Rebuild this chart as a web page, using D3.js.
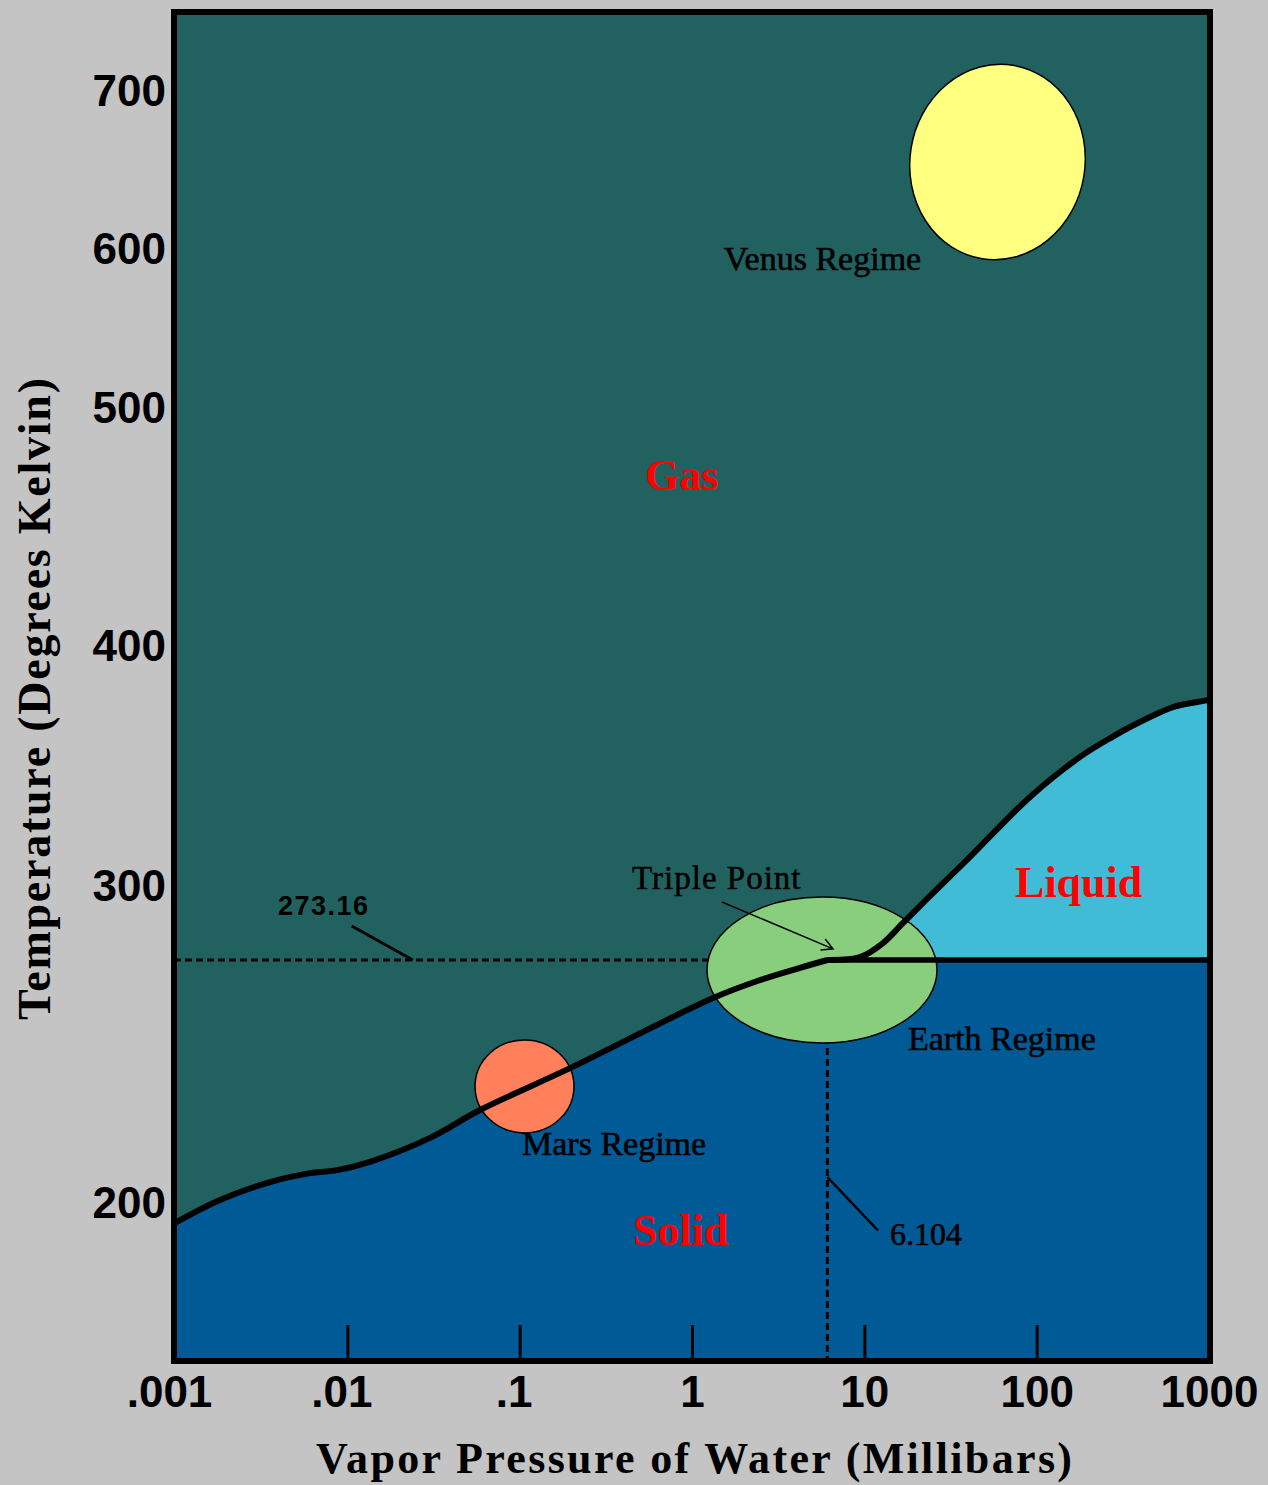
<!DOCTYPE html>
<html>
<head>
<meta charset="utf-8">
<script src="https://cdn.jsdelivr.net/npm/d3@7"></script>
<style>
  body { margin: 0; background: #c4c4c4; }
  svg { display: block; }
</style>
</head>
<body>
<svg id="chart" width="1268" height="1485"></svg>
<script>
// axis ticks
const pressureTicks = [0.001, 0.01, 0.1, 1, 10, 100, 1000];
const pressureTickLabels = ['.001', '.01', '.1', '1', '10', '100', '1000'];
const tempTicks = [200, 300, 400, 500, 600, 700];

// ice / vapour boundary (mbar, K)
const sublimationP = [0.001, 0.001824, 0.003557, 0.006073, 0.008711, 0.01354, 0.03018, 0.05887, 0.196, 1.324, 2.481, 4.234, 6.104];
const sublimationT = [193.7, 200.9, 206.3, 209.0, 209.9, 212.4, 219.6, 228.0, 240.6, 261.7, 267.1, 270.8, 273.16];

// liquid / vapour boundary
const vaporP = [6.104, 9.44, 12.83, 16.77, 23.1, 39.4, 91.5, 178.5, 280, 348, 618, 852, 1000];
const vaporT = [273.16, 274.2, 279.3, 286.6, 295.3, 310.9, 337.2, 353.9, 362.6, 366.4, 374.7, 376.8, 377.7];

const triplePoint = [6.104, 273.16];

// planet regimes: pressure and temperature ranges
const regimeNames = ['Venus Regime', 'Earth Regime', 'Mars Regime'];
const regimePRange = [[18.4, 190.8], [1.222, 26.4], [0.0551, 0.2066]];
const regimeTRange = [[593.4, 717], [248.2, 296.0], [221.1, 249.1]];
const regimeLabelAt = [[1.53, 587.1], [17.9, 246.1], [0.1032, 214.4]];

const phaseNames = ['Gas', 'Liquid', 'Solid'];
const phaseLabelAt = [[0.534, 465.6], [74.9, 296.0], [0.455, 186.7]];

// reference values marked with pointers
const refLabels = ['273.16', '6.104'];
const refLabelAt = [[0.00396, 289.5], [14.1, 186.7]];
const refPointerFrom = [[0.0106, 285.5], [6.104, 207.8]];
const refPointerTo = [[0.024, 273.16], [12.0, 191.3]];
const tripleLabelAt = [0.449, 298.9];
const tripleArrowFrom = [1.49, 294.2];
const tripleArrowTo = [6.58, 277.2];

const svg = d3.select('#chart');

const x = d3.scaleLog().domain([0.001, 1000]).range([175, 1209]);
// the temperature axis is drawn unevenly in the original
const y = d3.scaleLinear()
  .domain([150, 200, 273.16, 300, 400, 500, 600, 700, 750])
  .range([1361, 1203, 960, 886, 646.5, 408, 249.5, 91, 12]);

const plotLeft = 174, plotRight = 1210, plotTop = 12, plotBottom = 1361;
const pt = d => [x(d[0]), y(d[1])];
const line = d3.line().curve(d3.curveCatmullRom.alpha(0.5));

const subPts = sublimationP.map((p, i) => [x(p), y(sublimationT[i])]);
const vapPts = vaporP.map((p, i) => [x(p), y(vaporT[i])]);
const [tx, ty] = pt(triplePoint);

// gas fills everything
svg.append('rect')
  .attr('x', plotLeft).attr('y', plotTop)
  .attr('width', plotRight - plotLeft).attr('height', plotBottom - plotTop)
  .attr('fill', '#216260');

// solid
svg.append('path')
  .attr('d', line(subPts) + `L${plotRight},${ty}L${plotRight},${plotBottom}L${plotLeft},${plotBottom}L${plotLeft},${subPts[0][1]}Z`)
  .attr('fill', '#005a96');

// liquid
svg.append('path')
  .attr('d', line(vapPts) + `L${plotRight},${vapPts[vapPts.length - 1][1]}L${plotRight},${ty}Z`)
  .attr('fill', '#40bcd6');

// dashed reference lines through the triple point
svg.append('line')
  .attr('x1', plotLeft).attr('y1', ty).attr('x2', tx).attr('y2', ty)
  .attr('stroke', '#000').attr('stroke-width', 3).attr('stroke-dasharray', '7,4');
svg.append('line')
  .attr('x1', tx).attr('y1', ty).attr('x2', tx).attr('y2', plotBottom)
  .attr('stroke', '#000').attr('stroke-width', 3).attr('stroke-dasharray', '7,4');

// x axis, ticks pointing inward
const xAxis = d3.axisBottom(x)
  .tickValues(pressureTicks)
  .tickFormat((d, i) => pressureTickLabels[i])
  .tickSizeInner(-36)
  .tickSizeOuter(0)
  .tickPadding(15);

const gx = svg.append('g')
  .attr('transform', `translate(0,${plotBottom})`)
  .call(xAxis);
gx.select('.domain').remove();
gx.selectAll('.tick line').attr('stroke', '#000').attr('stroke-width', 3);
gx.selectAll('.tick text')
  .attr('font-family', 'Liberation Sans, Arial, sans-serif')
  .attr('font-weight', 'bold')
  .attr('font-size', 44)
  .attr('fill', '#000')
  .attr('dx', (d, i) => pressureTickLabels[i][0] === '.' ? -6 : 0);

const yAxis = d3.axisLeft(y)
  .tickValues(tempTicks)
  .tickSize(0)
  .tickPadding(8);

const gy = svg.append('g')
  .attr('transform', `translate(${plotLeft},0)`)
  .call(yAxis);
gy.select('.domain').remove();
gy.selectAll('.tick text')
  .attr('font-family', 'Liberation Sans, Arial, sans-serif')
  .attr('font-weight', 'bold')
  .attr('font-size', 44)
  .attr('fill', '#000');

// regimes
const regimeFill = ['#ffff80', '#88ce7c', '#ff805a'];
const regimeTilt = [9, 0, 0];
regimeNames.forEach((name, i) => {
  const x0 = x(regimePRange[i][0]), x1 = x(regimePRange[i][1]);
  const y0 = y(regimeTRange[i][1]), y1 = y(regimeTRange[i][0]);
  const cx = (x0 + x1) / 2, cy = (y0 + y1) / 2;
  svg.append('ellipse')
    .attr('cx', cx).attr('cy', cy)
    .attr('rx', (x1 - x0) / 2).attr('ry', (y1 - y0) / 2)
    .attr('transform', `rotate(${regimeTilt[i]},${cx},${cy})`)
    .attr('fill', regimeFill[i])
    .attr('stroke', '#000')
    .attr('stroke-width', 1.5);
});

// phase boundaries
svg.append('path')
  .attr('d', line(subPts))
  .attr('fill', 'none').attr('stroke', '#000').attr('stroke-width', 6);
svg.append('path')
  .attr('d', line(vapPts))
  .attr('fill', 'none').attr('stroke', '#000').attr('stroke-width', 6);
svg.append('line')
  .attr('x1', tx).attr('y1', ty).attr('x2', plotRight).attr('y2', ty)
  .attr('stroke', '#000').attr('stroke-width', 5.5);

// pointers
const refWidth = [3, 2.5];
refLabels.forEach((lbl, i) => {
  const [ax, ay] = pt(refPointerFrom[i]);
  const [bx, by] = pt(refPointerTo[i]);
  svg.append('line')
    .attr('x1', ax).attr('y1', ay).attr('x2', bx).attr('y2', by)
    .attr('stroke', '#000').attr('stroke-width', refWidth[i]);
});

svg.append('defs').append('marker')
  .attr('id', 'chevron')
  .attr('viewBox', '-12 -8 14 16')
  .attr('markerWidth', 14).attr('markerHeight', 16)
  .attr('markerUnits', 'userSpaceOnUse')
  .attr('orient', 'auto')
  .append('path')
  .attr('d', 'M-11,-6L0,0L-11,6')
  .attr('fill', 'none').attr('stroke', '#000').attr('stroke-width', 1.5);

const [sx, sy] = pt(tripleArrowFrom);
const [ex, ey] = pt(tripleArrowTo);
svg.append('line')
  .attr('x1', sx).attr('y1', sy).attr('x2', ex).attr('y2', ey)
  .attr('stroke', '#000').attr('stroke-width', 1.5)
  .attr('marker-end', 'url(#chevron)');

// text
const serif = 'Liberation Serif, Times New Roman, serif';

regimeNames.forEach((name, i) => {
  svg.append('text')
    .attr('x', x(regimeLabelAt[i][0])).attr('y', y(regimeLabelAt[i][1]))
    .attr('font-family', serif).attr('font-size', 34)
    .attr('fill', '#000')
    .attr('stroke', '#000').attr('stroke-width', 0.6)
    .text(name);
});

phaseNames.forEach((name, i) => {
  svg.append('text')
    .attr('x', x(phaseLabelAt[i][0])).attr('y', y(phaseLabelAt[i][1]))
    .attr('font-family', serif).attr('font-weight', 'bold').attr('font-size', 44)
    .attr('fill', '#ff0000')
    .text(name);
});

svg.append('text')
  .attr('x', x(tripleLabelAt[0])).attr('y', y(tripleLabelAt[1]))
  .attr('font-family', serif).attr('font-size', 33)
  .attr('letter-spacing', 1)
  .attr('fill', '#000')
  .attr('stroke', '#000').attr('stroke-width', 0.5)
  .text('Triple Point');

svg.append('text')
  .attr('x', x(refLabelAt[0][0])).attr('y', y(refLabelAt[0][1]))
  .attr('font-family', 'Liberation Sans, Arial, sans-serif')
  .attr('font-weight', 'bold').attr('font-size', 27)
  .attr('letter-spacing', 1.5)
  .attr('fill', '#000')
  .text(refLabels[0]);

svg.append('text')
  .attr('x', x(refLabelAt[1][0])).attr('y', y(refLabelAt[1][1]))
  .attr('font-family', serif).attr('font-size', 32)
  .attr('fill', '#000')
  .attr('stroke', '#000').attr('stroke-width', 0.6)
  .text(refLabels[1]);

// axis titles
svg.append('text')
  .attr('x', (316 + 1072) / 2).attr('y', 1473)
  .attr('text-anchor', 'middle')
  .attr('font-family', serif).attr('font-weight', 'bold').attr('font-size', 44)
  .attr('textLength', 756).attr('lengthAdjust', 'spacing')
  .attr('fill', '#000')
  .text('Vapor Pressure of Water (Millibars)');

svg.append('text')
  .attr('transform', `translate(50,${(378 + 1020) / 2}) rotate(-90)`)
  .attr('text-anchor', 'middle')
  .attr('font-family', serif).attr('font-weight', 'bold').attr('font-size', 46)
  .attr('textLength', 642).attr('lengthAdjust', 'spacing')
  .attr('fill', '#000')
  .text('Temperature (Degrees Kelvin)');

// frame
svg.append('rect')
  .attr('x', plotLeft).attr('y', plotTop)
  .attr('width', plotRight - plotLeft).attr('height', plotBottom - plotTop)
  .attr('fill', 'none')
  .attr('stroke', '#000')
  .attr('stroke-width', 6);
</script>
</body>
</html>
